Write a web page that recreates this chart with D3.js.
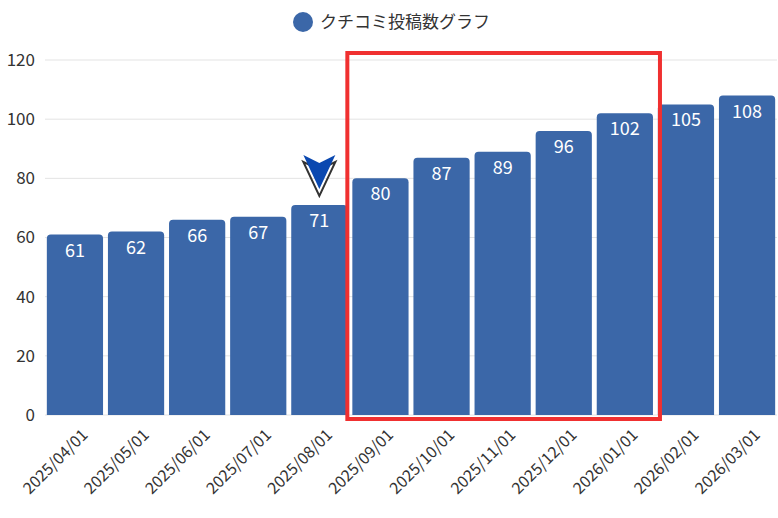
<!DOCTYPE html><html><head><meta charset="utf-8"><script src="https://cdn.jsdelivr.net/npm/d3@7"></script>
<style>body{margin:0;background:#fff}text{font-family:"Noto Sans CJK JP","Noto Sans",sans-serif}</style></head><body><svg id="c" width="778" height="518"></svg><script>
const categories=["2025/04/01","2025/05/01","2025/06/01","2025/07/01","2025/08/01","2025/09/01","2025/10/01","2025/11/01","2025/12/01","2026/01/01","2026/02/01","2026/03/01"];
const values=[61,62,66,67,71,80,87,89,96,102,105,108];
const yTicks=[0,20,40,60,80,100,120];
const seriesName="クチコミ投稿数グラフ";
const svg=d3.select("#c");
const x=d3.scaleBand().domain(categories).range([45,777]).paddingInner(0.08).paddingOuter(0.03);
const y=d3.scaleLinear().domain([0,120]).range([415,60]);
svg.append("g").selectAll("line").data(yTicks).join("line").attr("x1",45).attr("x2",777).attr("y1",d=>y(d)).attr("y2",d=>y(d)).attr("stroke","#e3e3e3");
svg.append("g").selectAll("text").data(yTicks).join("text").attr("x",35).attr("y",d=>y(d)).attr("dy","0.35em").attr("text-anchor","end").attr("font-size",17).attr("fill","#333").text(d=>d);
svg.append("g").selectAll("path").data(values).join("path").attr("fill","#3b67a8").attr("d",(d,i)=>{const x0=x(categories[i]),w=x.bandwidth(),y0=y(d),b=y(0),r=4;return `M${x0},${b}V${y0+r}Q${x0},${y0} ${x0+r},${y0}H${x0+w-r}Q${x0+w},${y0} ${x0+w},${y0+r}V${b}Z`;});
svg.append("g").selectAll("text").data(values).join("text").attr("x",(d,i)=>x(categories[i])+x.bandwidth()/2).attr("y",d=>y(d)+22).attr("text-anchor","middle").attr("font-size",18).attr("fill","#fff").text(d=>d);
svg.append("g").selectAll("text").data(categories).join("text").attr("transform",c=>`translate(${x(c)+x.bandwidth()/2+6},${428}) rotate(-45)`).attr("text-anchor","end").attr("dy","0.7em").attr("font-size",16).attr("fill","#333").text(c=>c);
// arrow marker on 2025/08
const ax=x(categories[4])+x.bandwidth()/2, ay=y(values[4])-12;
svg.append("path").attr("d",`M${ax-16},${ay-34}L${ax},${ay-26}L${ax+16},${ay-34}L${ax},${ay}Z`).attr("fill","none").attr("stroke","#333").attr("stroke-width",2).attr("transform","translate(0,3)");
svg.append("path").attr("d",`M${ax-16},${ay-38}L${ax},${ay-30}L${ax+16},${ay-38}L${ax},${ay-4}Z`).attr("fill","#0a48b0");
// red box
svg.append("rect").attr("x",x(categories[5])-5).attr("y",53).attr("width",x(categories[9])+x.bandwidth()-x(categories[5])+12).attr("height",366).attr("fill","none").attr("stroke","#f03030").attr("stroke-width",4);
// legend
svg.append("circle").attr("cx",303).attr("cy",22).attr("r",10).attr("fill","#3b67a8");
svg.append("text").attr("x",320).attr("y",22).attr("dy","0.35em").attr("font-size",17).attr("fill","#333").text(seriesName);
</script></body></html>
